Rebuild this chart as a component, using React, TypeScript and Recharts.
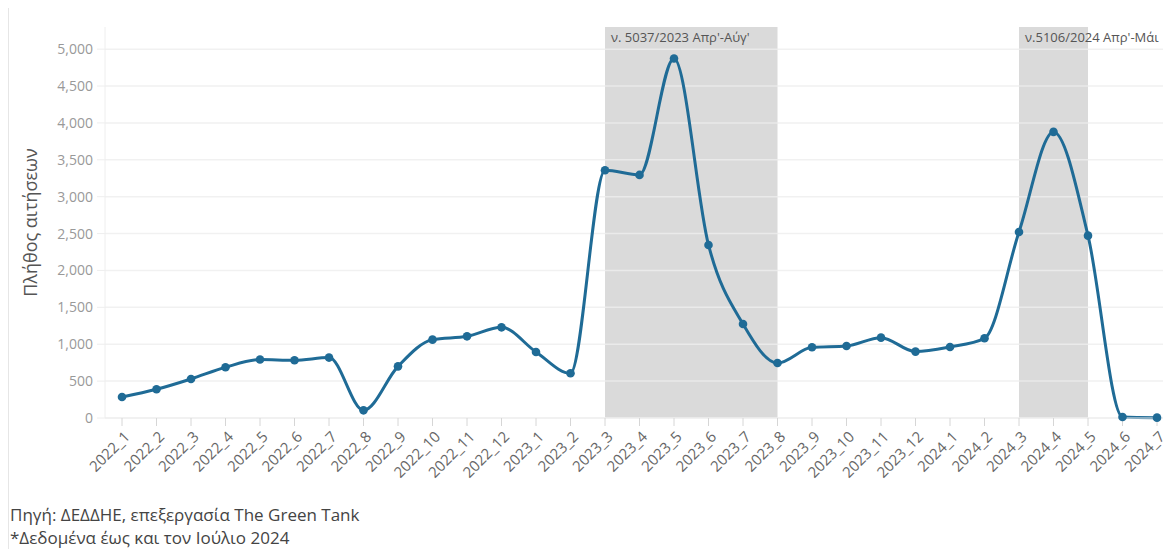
import React from 'react';
import {
  LineChart,
  Line,
  XAxis,
  YAxis,
  ReferenceArea,
  ReferenceLine,
} from 'recharts';

// months in "year_month" form as shown on the axis
const months = [
  '2022_1', '2022_2', '2022_3', '2022_4', '2022_5', '2022_6', '2022_7', '2022_8',
  '2022_9', '2022_10', '2022_11', '2022_12',
  '2023_1', '2023_2', '2023_3', '2023_4', '2023_5', '2023_6', '2023_7', '2023_8',
  '2023_9', '2023_10', '2023_11', '2023_12',
  '2024_1', '2024_2', '2024_3', '2024_4', '2024_5', '2024_6', '2024_7',
];

// number of applications per month
const applications = [
  285, 389, 529, 688, 792, 783, 819, 104, 700, 1062, 1107, 1229,
  895, 606, 3358, 3295, 4873, 2346, 1274, 745, 958, 976, 1089, 900,
  963, 1080, 2522, 3878, 2472, 14, 5,
];

const yTicks = [0, 500, 1000, 1500, 2000, 2500, 3000, 3500, 4000, 4500, 5000];

// subsidy programme windows
const windowStarts = ['2023_3', '2024_3'];
const windowEnds = ['2023_8', '2024_5'];
const windowLabels = ["ν. 5037/2023 Απρ'-Αύγ'", "ν.5106/2024 Απρ'-Μάι"];

const FONT = '"Open Sans", "Noto Sans", sans-serif';
const LINE_COLOR = '#1f6b96';

const data = months.map((m, i) => ({ month: m, value: applications[i] }));

function MonthTick({ x, y, payload }: { x?: number; y?: number; payload?: { value: string } }) {
  if (x === undefined || y === undefined || !payload) return null;
  const ax = x + 5;
  return (
    <text
      x={ax}
      y={y}
      dy="0.35em"
      textAnchor="end"
      fill="#666"
      fontSize={15}
      fontFamily={FONT}
      transform={`rotate(-45, ${ax}, ${y})`}
    >
      {payload.value}
    </text>
  );
}

export default function App() {
  return (
    <div style={{ width: 1163, borderLeft: '1px solid #e6e6e6', fontFamily: FONT }}>
      <LineChart
        width={1162}
        height={480}
        data={data}
        margin={{ top: 19, right: 3, bottom: 0, left: 0 }}
      >
        {windowStarts.map((start, i) => (
          <ReferenceArea
            key={start}
            x1={start}
            x2={windowEnds[i]}
            fill="#dadada"
            fillOpacity={1}
            stroke="none"
            label={{
              value: windowLabels[i],
              position: 'insideTopLeft',
              offset: 6,
              fill: '#555',
              fontSize: 13,
              fontFamily: FONT,
            }}
          />
        ))}
        {/* horizontal grid only at the value ticks */}
        {yTicks.map((t) => (
          <ReferenceLine key={t} y={t} stroke="#eeeeee" strokeWidth={1.5} strokeOpacity={0.8} />
        ))}
        <XAxis
          dataKey="month"
          interval={0}
          height={70}
          padding={{ left: 17, right: 11 }}
          axisLine={{ stroke: '#eeeeee' }}
          tickLine={{ stroke: '#d6d6d6' }}
          tickSize={8}
          tickMargin={8}
          tick={(props) => <MonthTick {...props} />}
        />
        <YAxis
          width={96}
          domain={[0, 5300]}
          ticks={yTicks}
          interval={0}
          tickFormatter={(v: number) => v.toLocaleString('en-US')}
          axisLine={{ stroke: '#eeeeee' }}
          tickLine={{ stroke: '#eeeeee' }}
          tickSize={8}
          tickMargin={4}
          tick={{ fill: '#999', fontSize: 14, fontFamily: FONT }}
          label={{
            value: 'Πλήθος αιτήσεων',
            angle: -90,
            position: 'insideLeft',
            offset: 22,
            style: { textAnchor: 'middle', fill: '#555', fontSize: 18, fontFamily: FONT },
          }}
        />
        <Line
          type="monotone"
          dataKey="value"
          stroke={LINE_COLOR}
          strokeWidth={3}
          dot={{ r: 4.3, fill: LINE_COLOR, stroke: 'none' }}
          activeDot={false}
          isAnimationActive={false}
        />
      </LineChart>
      <div style={{ marginTop: 15, paddingLeft: 1, fontSize: 17, lineHeight: '23px', color: '#444' }}>
        <div>Πηγή: ΔΕΔΔΗΕ, επεξεργασία The Green Tank</div>
        <div>*Δεδομένα έως και τον Ιούλιο 2024</div>
      </div>
    </div>
  );
}
